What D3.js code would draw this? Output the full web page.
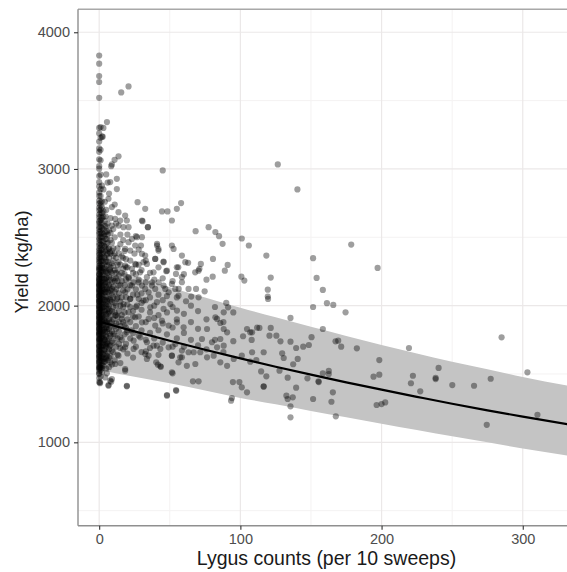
<!DOCTYPE html>
<html>
<head>
<meta charset="utf-8">
<script src="https://cdn.jsdelivr.net/npm/d3@7"></script>
<style>
  body { margin: 0; background: #fff; }
  text { font-family: "Liberation Sans", Arial, sans-serif; }
</style>
</head>
<body>
<svg id="chart" width="567" height="572"></svg>
<script>
// yields (kg/ha) of fields with zero, one and two lygus per 10 sweeps
var yieldAt0 = [1440, 1470, 1500, 1505, 1522, 1538, 1545, 1550, 1563, 1576, 1587, 1590, 1601, 1614, 1626, 1628, 1640, 1648, 1662, 1667, 1674, 1686, 1699, 1704, 1708, 1721, 1733, 1744, 1751, 1756, 1763, 1777, 1786, 1792, 1797, 1806, 1814, 1826, 1831, 1834, 1847, 1856, 1863, 1872, 1876, 1884, 1896, 1904, 1912, 1917, 1925, 1933, 1946, 1951, 1954, 1967, 1975, 1984, 1991, 1996, 2004, 2016, 2027, 2032, 2034, 2046, 2053, 2066, 2071, 2074, 2087, 2095, 2103, 2112, 2116, 2124, 2137, 2144, 2151, 2157, 2163, 2176, 2184, 2192, 2197, 2206, 2221, 2229, 2233, 2252, 2264, 2271, 2281, 2293, 2312, 2324, 2341, 2353, 2372, 2384, 2402, 2418, 2441, 2458, 2482, 2497, 2523, 2538, 2561, 2578, 2603, 2618, 2647, 2668, 2697, 2718, 2747, 2768, 2803, 2828, 2872, 2903, 2948, 3002, 3020, 3070, 3125, 3150, 3200, 3260, 3300, 3520, 3636, 3680, 3770, 3830];
var yieldAt1 = [1482, 1528, 1547, 1563, 1598, 1617, 1632, 1658, 1681, 1703, 1728, 1746, 1762, 1788, 1806, 1823, 1848, 1866, 1882, 1898, 1914, 1933, 1958, 1977, 1992, 2018, 2036, 2053, 2078, 2097, 2112, 2138, 2156, 2172, 2198, 2216, 2243, 2262, 2278, 2301, 2322, 2343, 2358, 2384, 2403, 2426, 2448, 2476, 2503, 2527, 2548, 2576, 2603, 2626, 2648, 2681, 2703, 2731, 2758, 2803, 2852, 2958, 3063, 3140, 3228, 3307];
var yieldAt2 = [1512, 1541, 1568, 1596, 1622, 1651, 1678, 1702, 1723, 1746, 1768, 1791, 1812, 1836, 1858, 1882, 1902, 1921, 1938, 1962, 1983, 2006, 2028, 2051, 2072, 2091, 2108, 2131, 2152, 2176, 2198, 2226, 2253, 2277, 2298, 2326, 2352, 2381, 2408, 2442, 2472, 2501, 2528, 2566, 2603, 2642, 2678, 2721, 2763, 2878, 3236];

// crowded low counts: [lygus count, yields at that count]
var lowCountYields = [
  [3, [1560, 1640, 1710, 1790, 1860, 1920, 2010, 2080, 2150, 2230, 2310, 2390, 2470, 2560, 2690]],
  [3.5, [1590, 1672, 1748, 1825, 1893, 1968, 2045, 2118, 2196, 2274, 2355, 2436, 2522]],
  [4, [1590, 1680, 1750, 1810, 1900, 1960, 2040, 2120, 2190, 2270, 2350, 2430, 2510, 2620]],
  [4.5, [1612, 1718, 1784, 1872, 1938, 2012, 2097, 2163, 2247, 2318, 2396, 2488, 2653]],
  [5, [1540, 1620, 1700, 1770, 1840, 1930, 2000, 2060, 2140, 2250, 2330, 2410, 2580, 2700]],
  [5.5, [1633, 1726, 1809, 1887, 1972, 2038, 2124, 2206, 2291, 2372, 2543]],
  [6, [1600, 1660, 1740, 1860, 1940, 2010, 2100, 2170, 2240, 2320, 2460, 2600]],
  [7, [1550, 1680, 1760, 1830, 1900, 2000, 2090, 2150, 2210, 2350, 2420, 2550, 2820]],
  [7.5, [1702, 1796, 1874, 1961, 2047, 2128, 2263, 2392]],
  [8, [1630, 1710, 1850, 1920, 2040, 2110, 2190, 2280, 2380, 2530, 2640]],
  [9, [1570, 1740, 1810, 1880, 1960, 2030, 2170, 2240, 2310, 2460]],
  [10, [1660, 1730, 1900, 2060, 2140, 2200, 2290, 2420, 2560]],
  [11, [1600, 1780, 1950, 2020, 2100, 2180, 2380, 2500]],
  [12, [1700, 1830, 1870, 2000, 2120, 2240, 2350, 2600]],
  [13, [1640, 1760, 1920, 2060, 2180, 2260, 2420]],
  [14, [1720, 1810, 1960, 2090, 2220, 2380]],
  [15, [1580, 1690, 1850, 2030, 2150, 2300, 2520]],
  [16, [1750, 1930, 2060, 2180, 2360]],
  [17, [1680, 1880, 1990, 2110, 2270, 2480]],
  [18, [1790, 1950, 2150, 2230, 2400]],
  [19, [1720, 1840, 2060, 2190, 2340]],
  [20, [1650, 1820, 2010, 2120, 2280, 2520]],
  [22, [1760, 1880, 1990, 2150, 2330]],
  [24, [1620, 1800, 1920, 2080, 2240]],
  [26, [1700, 1850, 1990, 2120, 2300]],
  [28, [1780, 1920, 2050, 2190, 2410]],
  [30, [1660, 1820, 1970, 2090, 2260]],
  [33, [1750, 1880, 2040, 2170, 2330]],
  [36, [1690, 1800, 1950, 2060, 2240]],
  [39, [1760, 1910, 2000, 2190]],
  [42, [1640, 1820, 1930, 2080, 2280]],
  [45, [1730, 1870, 2040, 2200]],
  [48, [1790, 1950, 2070]],
  [52, [1700, 1840, 1990, 2180]],
  [55, [1760, 1900, 2060]],
  [60, [1700, 1800, 1940, 2230]],
  [65, [1750, 1880, 2000]],
  [70, [1710, 1830, 1960]],
  [76, [1680, 1900, 2190]],
  [82, [1750, 1990]],
  [88, [1660, 1880]],
  [95, [1740, 1950]]
];

// other fields: [lygus count, yield]
var fields = [
  [5.5, 3343], [3, 3300], [2.5, 3236], [15.6, 3560], [20.8, 3604], [10.9, 3067], [13.7, 3092],
  [9, 3033], [8.5, 3020], [5, 2960], [7.8, 2904], [12.5, 2928], [12.5, 2853], [45, 2989],
  [6.6, 2782], [9, 2721], [13.7, 2684], [11.3, 2635], [14.9, 2623], [18.4, 2659], [19.6, 2623],
  [20.8, 2574], [17.2, 2574], [9, 2586], [13.7, 2586], [27.2, 2757], [32.6, 2708], [44.5, 2689],
  [48.4, 2689], [51.5, 2623], [55, 2708], [58, 2750], [34.5, 2574], [30.7, 2618], [68.3, 2545],
  [77.5, 2574], [82.3, 2538], [84.9, 2508], [87.4, 2452], [101, 2491], [106, 2440], [41, 2440],
  [42, 2403], [26, 2508], [29.6, 2440], [30.3, 2379], [51.5, 2440], [52.7, 2415], [58.6, 2366],
  [61, 2318], [63, 2313], [45.6, 2322], [39.7, 2342], [72, 2305], [70.4, 2256], [68, 2244],
  [71, 2269], [80.6, 2342], [80.4, 2212], [91, 2298], [89, 2256], [100.7, 2212], [102.8, 2183],
  [56, 2281], [54.4, 2232], [58.6, 2208], [47.5, 2252], [38.5, 2244], [33.8, 2305], [63.3, 2122],
  [68.6, 2122], [74.7, 2105], [70.4, 2061], [65.2, 2066], [61.5, 2032], [90, 2020], [91.3, 1988],
  [88.2, 1951], [83.5, 1903], [104.7, 1829], [108.3, 1805], [101.9, 1776], [111.8, 1839],
  [76.4, 1829], [82.3, 1915], [85.8, 1873], [88.2, 1829], [90.6, 1805], [72.8, 1756], [79.9, 1732],
  [85.8, 1756], [88.2, 1707], [83.5, 1695], [66.9, 1659], [71.6, 1659], [76.4, 1622], [81.1, 1634],
  [85.8, 1585], [90.6, 1560], [95.3, 1610], [101, 1634], [108.3, 1659], [51.5, 1634], [57.4, 1622],
  [63.3, 1659], [56.2, 1585], [62.1, 1560], [68.1, 1573], [51.5, 1512], [66.4, 1446], [70.4, 1446],
  [48, 1346], [54.6, 1377], [41.6, 1568], [43.7, 1553], [35, 1634], [33.1, 1666], [94, 1324],
  [101, 1402], [104.7, 1366], [19.6, 1410], [18.4, 1524], [4.3, 1475], [7.8, 1451], [6.6, 1414],
  [0.6, 1432], [8.5, 1444], [93.4, 1305], [94.7, 1441], [99.3, 1441], [116.5, 1407],
  [126.5, 3033], [140.4, 2850], [178.5, 2447], [118.4, 2366], [151.5, 2347], [197.2, 2276],
  [121.5, 2205], [119.4, 2117], [119.4, 2066], [119.6, 2049], [154, 2203], [158.4, 2115],
  [161.3, 2018], [165.8, 2005], [151.5, 1990], [174.5, 1951], [135.5, 1910], [158.4, 1829],
  [107, 1805], [108, 1749], [113.5, 1837], [121.5, 1837], [120.6, 1780], [125.5, 1780], [128.4, 1739],
  [135.5, 1736], [139.5, 1690], [144.5, 1700], [148.5, 1712], [150.4, 1769], [167.4, 1739],
  [169.3, 1744], [171.4, 1700], [182.5, 1688], [219.4, 1690], [116.5, 1659], [129.6, 1651],
  [130.7, 1617], [140.6, 1610], [137.4, 1571], [111.3, 1602], [107, 1590], [127.7, 1524],
  [114.7, 1519], [118.4, 1483], [133.5, 1473], [116.5, 1410], [139.5, 1400], [147.5, 1468],
  [155.3, 1446], [158.4, 1505], [162.6, 1522], [162.6, 1500], [132.6, 1341], [137.1, 1329],
  [133.5, 1317], [135.5, 1263], [135.5, 1183], [151.5, 1317], [164.5, 1297], [165.5, 1366],
  [167.6, 1190], [155.5, 1441], [194.3, 1480], [198.4, 1495], [198.4, 1602], [196.5, 1273],
  [200, 1280], [202.6, 1292], [220.8, 1432], [222.2, 1487], [227.4, 1373], [238.3, 1471],
  [240.4, 1544], [238.3, 1463], [285, 1768], [250.1, 1419], [265.5, 1414], [277.3, 1465],
  [303.3, 1512], [310.4, 1201], [274.5, 1128],
  [4.3, 2171], [9, 2122], [13.7, 2147], [18.4, 2098], [23.2, 2147], [27.9, 2171], [32.6, 2122],
  [37.4, 2147], [42.1, 2171], [46.8, 2122], [51.5, 2159], [56.3, 2122], [12.5, 2049], [17.3, 2012],
  [22, 2049], [26.7, 2000], [31.4, 2037], [36.2, 1988], [40.9, 2025], [45.6, 1976], [50.4, 2012],
  [55.1, 1964], [6.6, 1976], [11.4, 1927], [16.1, 1903], [20.8, 1951], [25.5, 1915], [30.3, 1878],
  [35, 1903], [39.7, 1854], [44.4, 1890], [49.2, 1854], [55.1, 1878], [59.8, 1842], [5.4, 1829],
  [10.2, 1793], [14.9, 1768], [19.6, 1805], [24.4, 1744], [29.1, 1768], [33.8, 1732], [38.5, 1707],
  [43.3, 1683], [49.2, 1695], [54, 1719], [58.6, 1671], [4.3, 1707], [9, 1671], [13.7, 1634],
  [18.4, 1695], [24.4, 1683], [32.6, 1646], [40.9, 1707], [51.5, 1634], [58.6, 1622], [3.1, 1610],
  [7.8, 1585], [11.4, 1573], [18.4, 1536], [33.8, 1610], [40.4, 1585], [43.3, 1556], [52, 1505],
  [48, 1341], [54.4, 1382], [19.6, 1414], [6.6, 1419], [9, 1463], [0.7, 1439], [5.4, 1505],
  [0.7, 1548],
  [30.3, 2623], [34.5, 2574], [26.7, 2501], [30.3, 2501], [23.2, 2488], [20.8, 2464], [25.5, 2440],
  [18.4, 2415], [22, 2403], [41, 2452], [42, 2415], [39.7, 2342], [45.6, 2318], [48, 2256],
  [55, 2281], [32.6, 2366], [31.4, 2318], [25.5, 2305], [23.2, 2269], [29, 2244], [33.8, 2208],
  [37.4, 2171], [39.7, 2122], [35, 2098], [30.3, 2147], [24.3, 2171], [20.8, 2208], [18.4, 2293],
  [13.7, 2318], [10.1, 2366], [6.6, 2415], [5.5, 2488], [4.3, 2537], [45.6, 2147], [49.2, 2098],
  [53.9, 2122], [58.6, 2171], [56.2, 2073],
  [3, 2650], [4, 2580], [5, 2450], [6, 2380], [7, 2300], [8, 2250], [5, 2200], [4, 2100], [6, 2050],
  [3, 1990], [7, 1950], [5, 1880], [4, 1830], [8, 1780], [3, 1760], [6, 1720], [4, 1650], [7, 1620],
  [9, 2400], [10, 2330], [11, 2260], [12, 2200], [9, 2080], [10, 1990], [12, 1930], [11, 1850],
  [14, 1880], [15, 2000], [13, 2300], [16, 2240], [15, 2450], [17, 2350], [19, 2280], [21, 2200],
  [22, 2050], [24, 1960], [20, 1900], [18, 1860], [23, 1820], [26, 2230], [28, 2300], [27, 2080],
  [30, 2020], [25, 2380], [6, 2520], [8, 2480], [11, 2740], [4, 2760], [3, 2850], [6, 2900]
];

// fitted curve and its band
var fitCounts = [0, 25, 50, 75, 100, 125, 150, 175, 200, 225, 250, 275, 300, 337];
var fitYield = [1883, 1812, 1743, 1677, 1614, 1553, 1495, 1439, 1385, 1333, 1282, 1234, 1188, 1123];
var bandUpper = [2300, 2215, 2135, 2060, 1985, 1915, 1845, 1778, 1712, 1650, 1590, 1535, 1478, 1405];
var bandLower = [1530, 1480, 1432, 1380, 1325, 1278, 1230, 1183, 1136, 1090, 1044, 1000, 955, 895];

var xTicks = [0, 100, 200, 300];
var xMinor = [50, 150, 250];
var yTicks = [1000, 2000, 3000, 4000];
var yMinor = [500, 1500, 2500, 3500];

var svg = d3.select("#chart");
var panelLeft = 78, panelTop = 9.3, panelBottom = 525.7, panelRight = 575;

var x = d3.scaleLinear().domain([-15, 337]).range([panelLeft, panelRight]);
var y = d3.scaleLinear().domain([390, 4168]).range([panelBottom, panelTop]);

svg.append("defs").append("clipPath").attr("id", "panel")
  .append("rect").attr("x", panelLeft).attr("y", panelTop)
  .attr("width", panelRight - panelLeft).attr("height", panelBottom - panelTop);

var grid = svg.append("g");
grid.selectAll(".vmin").data(xMinor).enter().append("line")
  .attr("x1", x).attr("x2", x).attr("y1", panelTop).attr("y2", panelBottom)
  .attr("stroke", "#f4f2f2").attr("stroke-width", 1);
grid.selectAll(".hmin").data(yMinor).enter().append("line")
  .attr("y1", y).attr("y2", y).attr("x1", panelLeft).attr("x2", panelRight)
  .attr("stroke", "#f4f2f2").attr("stroke-width", 1);
grid.selectAll(".vmaj").data(xTicks).enter().append("line")
  .attr("x1", x).attr("x2", x).attr("y1", panelTop).attr("y2", panelBottom)
  .attr("stroke", "#ebe8e8").attr("stroke-width", 1.2);
grid.selectAll(".hmaj").data(yTicks).enter().append("line")
  .attr("y1", y).attr("y2", y).attr("x1", panelLeft).attr("x2", panelRight)
  .attr("stroke", "#ebe8e8").attr("stroke-width", 1.2);

var plot = svg.append("g").attr("clip-path", "url(#panel)");

var band = d3.area()
  .x(function(d, i) { return x(fitCounts[i]); })
  .y0(function(d, i) { return y(bandLower[i]); })
  .y1(function(d, i) { return y(bandUpper[i]); })
  .curve(d3.curveMonotoneX);

plot.append("path").datum(fitCounts)
  .attr("d", band)
  .attr("fill", "#c4c4c4");

var points = [];
yieldAt0.forEach(function(v) { points.push([0, v]); });
yieldAt1.forEach(function(v) { points.push([1, v]); });
yieldAt2.forEach(function(v) { points.push([2, v]); });
lowCountYields.forEach(function(row) {
  row[1].forEach(function(v) { points.push([row[0], v]); });
});
points = points.concat(fields);

plot.selectAll("circle").data(points).enter().append("circle")
  .attr("cx", function(d) { return x(d[0]); })
  .attr("cy", function(d) { return y(d[1]); })
  .attr("r", 3.1)
  .attr("fill", "#000")
  .attr("fill-opacity", 0.38);

var fit = d3.line()
  .x(function(d, i) { return x(fitCounts[i]); })
  .y(function(d, i) { return y(fitYield[i]); })
  .curve(d3.curveMonotoneX);

plot.append("path").datum(fitCounts)
  .attr("d", fit)
  .attr("fill", "none")
  .attr("stroke", "#000")
  .attr("stroke-width", 2.2);

// panel border (top) and axis lines
svg.append("line").attr("x1", panelLeft).attr("x2", panelRight).attr("y1", panelTop).attr("y2", panelTop)
  .attr("stroke", "#a8a8a8").attr("stroke-width", 1.4);
svg.append("line").attr("x1", panelLeft).attr("x2", panelLeft).attr("y1", panelTop).attr("y2", panelBottom)
  .attr("stroke", "#8f8f8f").attr("stroke-width", 1.4);
svg.append("line").attr("x1", panelLeft).attr("x2", panelRight).attr("y1", panelBottom).attr("y2", panelBottom)
  .attr("stroke", "#8f8f8f").attr("stroke-width", 1.4);

var xAxis = d3.axisBottom(x).tickValues(xTicks).tickFormat(d3.format("d")).tickSize(4).tickPadding(4);
var gx = svg.append("g").attr("transform", "translate(0," + panelBottom + ")").call(xAxis);
gx.select(".domain").remove();
gx.selectAll("line").attr("stroke", "#333").attr("stroke-width", 1.1);
gx.selectAll("text").attr("fill", "#4d4d4d").attr("font-size", "14.5px")
  .attr("font-family", "Liberation Sans, Arial, sans-serif");

var yAxis = d3.axisLeft(y).tickValues(yTicks).tickFormat(d3.format("d")).tickSize(4).tickPadding(4);
var gy = svg.append("g").attr("transform", "translate(" + panelLeft + ",0)").call(yAxis);
gy.select(".domain").remove();
gy.selectAll("line").attr("stroke", "#333").attr("stroke-width", 1.1);
gy.selectAll("text").attr("fill", "#4d4d4d").attr("font-size", "14.5px")
  .attr("font-family", "Liberation Sans, Arial, sans-serif");

svg.append("text")
  .attr("x", (panelLeft + panelRight) / 2)
  .attr("y", 565)
  .attr("text-anchor", "middle")
  .attr("font-size", "19.5px")
  .attr("fill", "#1a1a1a")
  .text("Lygus counts (per 10 sweeps)");

svg.append("text")
  .attr("transform", "translate(28,262) rotate(-90)")
  .attr("text-anchor", "middle")
  .attr("font-size", "18.5px")
  .attr("fill", "#1a1a1a")
  .text("Yield (kg/ha)");
</script>
</body>
</html>
